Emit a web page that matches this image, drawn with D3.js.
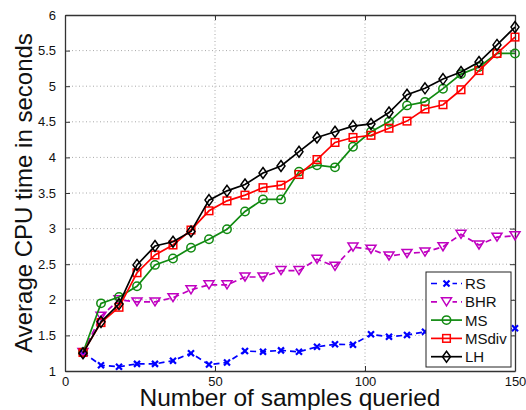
<!DOCTYPE html>
<html>
<head>
<meta charset="utf-8">
<script src="https://cdn.jsdelivr.net/npm/d3@7"></script>
<style>
  body { margin: 0; background: #fff; }
  svg { display: block; font-family: "Liberation Sans", Arial, sans-serif; }
  .grid line { stroke: #a8a8a8; stroke-dasharray: 1,2.5; }
</style>
</head>
<body>
<div id="container"></div>
<script>
const width = 526;
const height = 410;
const margin = { top: 15, right: 11, bottom: 39, left: 65 };

//-----------------------------DATA-----------------------------//
const samples = [6, 12, 18, 24, 30, 36, 42, 48, 54, 60, 66, 72, 78, 84, 90, 96, 102, 108, 114, 120, 126, 132, 138, 144, 150];
const rs    = [1.26, 1.08, 1.06, 1.10, 1.10, 1.145, 1.25, 1.09, 1.12, 1.28, 1.27, 1.29, 1.27, 1.34, 1.375, 1.37, 1.515, 1.48, 1.505, 1.55, 1.56, 1.57, 1.58, 1.58, 1.60];
const bhr   = [1.26, 1.77, 2.00, 1.97, 1.97, 2.03, 2.14, 2.21, 2.21, 2.32, 2.32, 2.41, 2.41, 2.57, 2.47, 2.74, 2.71, 2.615, 2.65, 2.67, 2.745, 2.92, 2.77, 2.88, 2.90];
const ms    = [1.26, 1.95, 2.04, 2.19, 2.49, 2.58, 2.73, 2.85, 2.99, 3.24, 3.41, 3.41, 3.80, 3.89, 3.86, 4.15, 4.36, 4.50, 4.73, 4.78, 4.965, 5.17, 5.27, 5.46, 5.46];
const msdiv = [1.26, 1.68, 1.895, 2.38, 2.63, 2.77, 2.98, 3.25, 3.39, 3.47, 3.575, 3.61, 3.76, 3.97, 4.21, 4.28, 4.31, 4.41, 4.51, 4.68, 4.74, 4.95, 5.22, 5.46, 5.69];
const lh    = [1.25, 1.69, 1.94, 2.49, 2.755, 2.815, 2.96, 3.40, 3.53, 3.62, 3.78, 3.88, 4.08, 4.28, 4.36, 4.44, 4.47, 4.63, 4.88, 4.97, 5.10, 5.20, 5.34, 5.58, 5.83];

const xTicks = [0, 50, 100, 150];
const yTicks = [1, 1.5, 2, 2.5, 3, 3.5, 4, 4.5, 5, 5.5, 6];
const seriesNames = ["RS", "BHR", "MS", "MSdiv", "LH"];

const series = [
  { name: seriesNames[0], values: rs,    color: "#0000ff", dash: "6,4", marker: "x" },
  { name: seriesNames[1], values: bhr,   color: "#c000c0", dash: "6,4", marker: "tri" },
  { name: seriesNames[2], values: ms,    color: "#108a10", dash: null,  marker: "circle" },
  { name: seriesNames[3], values: msdiv, color: "#ff0000", dash: null,  marker: "square" },
  { name: seriesNames[4], values: lh,    color: "#000000", dash: null,  marker: "diamond" }
];

const svg = d3.select("div#container").append("svg")
  .attr("width", width)
  .attr("height", height);

//----------------------------SCALES----------------------------//
const x = d3.scaleLinear().domain([0, 150]).range([margin.left, width - margin.right]);
const y = d3.scaleLinear().domain([1, 6]).range([height - margin.bottom, margin.top]);

//-----------------------------GRID-----------------------------//
const grid = svg.append("g").attr("class", "grid");
grid.selectAll(".gx").data(xTicks.slice(1, -1)).enter().append("line")
  .attr("x1", d => x(d)).attr("x2", d => x(d))
  .attr("y1", y(1)).attr("y2", y(6));
grid.selectAll(".gy").data(yTicks.slice(1, -1)).enter().append("line")
  .attr("x1", x(0)).attr("x2", x(150))
  .attr("y1", d => y(d)).attr("y2", d => y(d));

//-----------------------------AXES-----------------------------//
const tickFmt = d => String(d);
const axes = [
  [d3.axisBottom(x).tickValues(xTicks).tickSizeInner(-5).tickSizeOuter(0).tickPadding(6).tickFormat(tickFmt), `translate(0,${y(1)})`],
  [d3.axisTop(x).tickValues(xTicks).tickSizeInner(-5).tickSizeOuter(0).tickFormat(""), `translate(0,${y(6)})`],
  [d3.axisLeft(y).tickValues(yTicks).tickSizeInner(-5).tickSizeOuter(0).tickPadding(9).tickFormat(tickFmt), `translate(${x(0)},0)`],
  [d3.axisRight(y).tickValues(yTicks).tickSizeInner(-5).tickSizeOuter(0).tickFormat(""), `translate(${x(150)},0)`]
];
axes.forEach(([ax, tr]) => {
  const g = svg.append("g").attr("transform", tr).call(ax);
  g.select(".domain").attr("stroke", "#333").attr("stroke-width", 1.3);
  g.selectAll(".tick line").attr("stroke", "#333");
  g.selectAll(".tick text").attr("font-size", 13).attr("fill", "#111")
    .attr("font-family", "Liberation Sans, Arial, sans-serif");
});

svg.append("text")
  .attr("x", (x(0) + x(150)) / 2)
  .attr("y", 406)
  .attr("text-anchor", "middle")
  .attr("font-size", 24.5)
  .attr("fill", "#111")
  .text("Number of samples queried");

svg.append("text")
  .attr("transform", `translate(32,${(y(1) + y(6)) / 2}) rotate(-90)`)
  .attr("text-anchor", "middle")
  .attr("font-size", 24)
  .attr("fill", "#111")
  .text("Average CPU time in seconds");

//----------------------------MARKERS---------------------------//
function drawMarker(g, type, color) {
  if (type === "x") {
    g.append("path").attr("d", "M-3,-3L3,3M-3,3L3,-3")
      .attr("stroke", color).attr("stroke-width", 2.2).attr("fill", "none");
  } else if (type === "tri") {
    g.append("path").attr("d", "M-5,-4L5,-4L0,4Z")
      .attr("stroke", color).attr("stroke-width", 1.5).attr("fill", "none");
  } else if (type === "circle") {
    g.append("circle").attr("r", 4.2)
      .attr("stroke", color).attr("stroke-width", 1.5).attr("fill", "none");
  } else if (type === "square") {
    g.append("rect").attr("x", -3.8).attr("y", -3.8).attr("width", 7.6).attr("height", 7.6)
      .attr("stroke", color).attr("stroke-width", 1.5).attr("fill", "none");
  } else {
    g.append("path").attr("d", "M0,-5.5L4,0L0,5.5L-4,0Z")
      .attr("stroke", color).attr("stroke-width", 1.5).attr("fill", "none");
  }
}

//----------------------------LINES-----------------------------//
const line = d3.line()
  .x((d, i) => x(samples[i]))
  .y(d => y(d));

series.forEach(s => {
  const g = svg.append("g");
  g.append("path")
    .attr("d", line(s.values))
    .attr("fill", "none")
    .attr("stroke", s.color)
    .attr("stroke-width", 1.7)
    .attr("stroke-dasharray", s.dash);
  g.selectAll(".m").data(s.values).enter().append("g")
    .attr("transform", (d, i) => `translate(${x(samples[i])},${y(d)})`)
    .each(function() { drawMarker(d3.select(this), s.marker, s.color); });
});

//----------------------------LEGEND----------------------------//
const legend = svg.append("g").attr("transform", "translate(426,272)");
legend.append("rect")
  .attr("width", 85).attr("height", 95)
  .attr("fill", "#fff").attr("stroke", "#222").attr("stroke-width", 1);

series.forEach((s, i) => {
  const row = legend.append("g").attr("transform", `translate(0,${11.5 + i * 18.3})`);
  row.append("line")
    .attr("x1", 5).attr("x2", 36)
    .attr("stroke", s.color).attr("stroke-width", 1.7)
    .attr("stroke-dasharray", s.dash);
  const m = row.append("g").attr("transform", "translate(20.5,0)");
  if (s.dash) m.append("rect").attr("x", -6).attr("y", -6).attr("width", 12).attr("height", 12).attr("fill", "#fff");
  drawMarker(m, s.marker, s.color);
  row.append("text")
    .attr("x", 39).attr("y", 5.5)
    .attr("font-size", 15)
    .attr("fill", "#111")
    .text(s.name);
});
</script>
</body>
</html>
